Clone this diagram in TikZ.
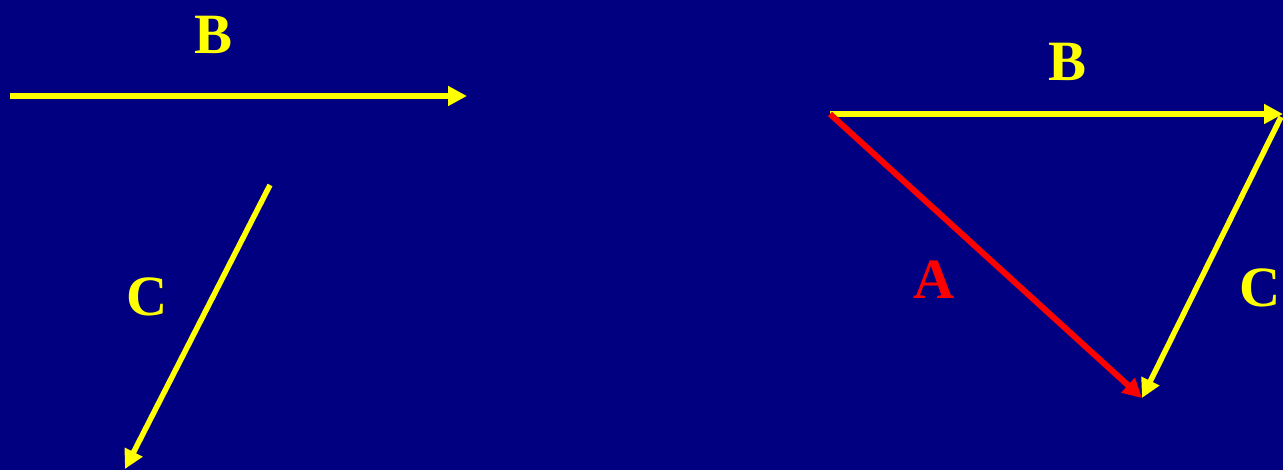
\documentclass[tikz,border=0pt]{standalone}
\usepackage{fontspec}
\setmainfont{Liberation Serif}
\usetikzlibrary{arrows.meta}
\definecolor{navy}{RGB}{0,0,128}
\definecolor{vyellow}{RGB}{255,255,0}
\definecolor{vred}{RGB}{255,0,0}
\tikzset{
  vec/.style={line width=5.5pt, -{Triangle[length=19pt,width=19pt]}},
  lbl/.style={font=\bfseries\fontsize{57}{62}\selectfont, inner sep=0pt}
}
\begin{document}
\begin{tikzpicture}[x=1pt,y=-1pt]
\fill[navy] (0,0) rectangle (1283,470);
\useasboundingbox (0,0) rectangle (1283,470);
% left
\coordinate (b1s) at (10,96);
\coordinate (b1e) at (467,96);
\coordinate (c1s) at (270,185);
\coordinate (c1e) at (125,469);
\draw[vec, vyellow] (b1s) -- (b1e);
\draw[vec, vyellow] (c1s) -- (c1e);
\node[lbl, text=vyellow] (lb1) at (214,35) {B};
\node[lbl, text=vyellow] (lc1) at (147,297) {C};
% right
\coordinate (o) at (830,114);
\coordinate (p) at (1283,114);
\coordinate (q) at (1142,398);
\draw[vec, vyellow] (o) -- (p);
\draw[vec, vyellow] (1281,117) -- (q);
\draw[vec, vred, line width=6pt] (o) -- (q);
\node[lbl, text=vyellow] (lb2) at (1067,62) {B};
\node[lbl, text=vred] (la) at (934,280) {A};
\node[lbl, text=vyellow] (lc2) at (1260,288) {C};
\end{tikzpicture}
\end{document}
